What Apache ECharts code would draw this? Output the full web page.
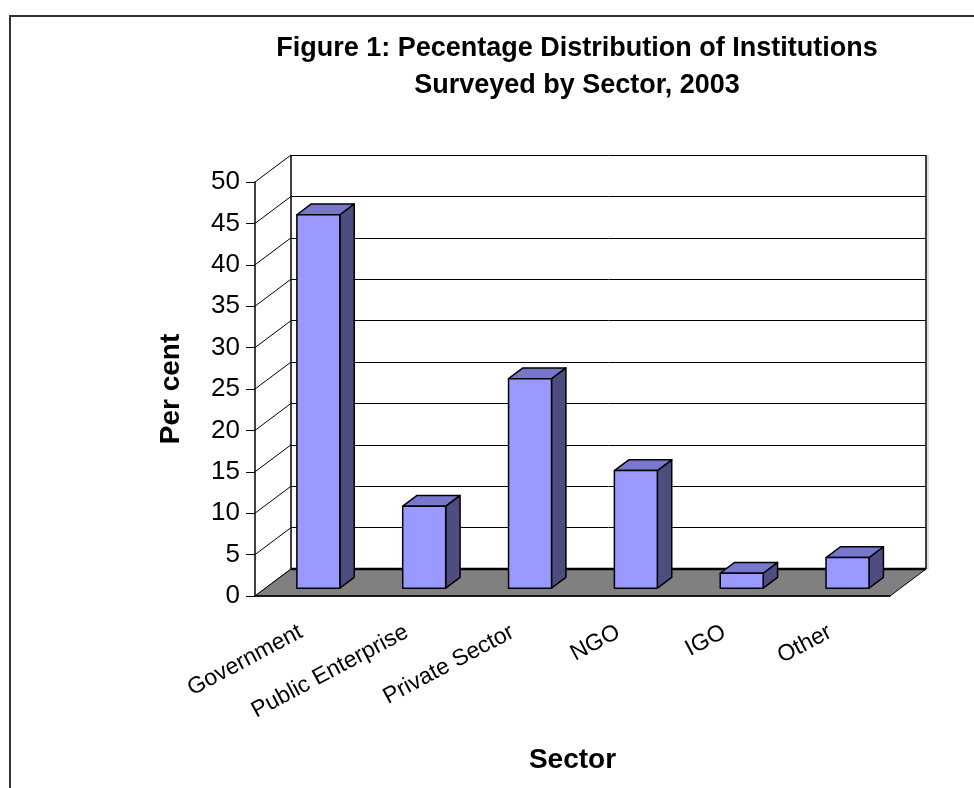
<!DOCTYPE html>
<html>
<head>
<meta charset="utf-8">
<script src="https://cdn.jsdelivr.net/npm/echarts@6/dist/echarts.min.js"></script>
<style>
  html, body { margin: 0; background: #fff; }
  #chart { width: 974px; height: 788px; }
</style>
</head>
<body>
<div id="chart"></div>
<script>
const sectors = ['Government', 'Public Enterprise', 'Private Sector', 'NGO', 'IGO', 'Other']
const percent = [45.1, 9.9, 25.3, 14.2, 1.8, 3.7]
const yTicks = [0, 5, 10, 15, 20, 25, 30, 35, 40, 45, 50]

const FONT = '"Liberation Sans", Arial, sans-serif'
const GRID = { left: 255, top: 182, width: 635, height: 414 }
// oblique depth of the 3d box, in px
const DX = 36
const DY = -27
const BAR_FRONT = 0.29
const BAR_DEPTH = 0.4
const BAR_WIDTH = 0.406

const line = (x1, y1, x2, y2, w) => ({
  type: 'line',
  shape: { x1, y1, x2, y2 },
  style: { stroke: '#000', lineWidth: w },
})

function renderFrame(params, api) {
  const band = api.size([1, 0])[0]
  const x0 = api.coord([0, 0])[0] - band / 2
  const x1 = api.coord([sectors.length - 1, 0])[0] + band / 2
  const y = (v) => api.coord([0, v])[1]
  const top = y(yTicks[yTicks.length - 1]) + DY
  const bot = y(0) + DY
  const children = []
  // side wall
  yTicks.forEach((v) => children.push(line(x0, y(v), x0 + DX, y(v) + DY, 1)))
  // back wall edges
  children.push(line(x0 + DX, top, x0 + DX, bot, 1.5))
  children.push(line(x1 + DX, top, x1 + DX, bot, 1.5))
  children.push({
    type: 'line',
    shape: { x1: x1 + DX + 2, y1: top, x2: x1 + DX + 2, y2: bot },
    style: { stroke: '#bbb', lineWidth: 1 },
  })
  // floor
  children.push({
    type: 'polygon',
    shape: { points: [[x0, y(0)], [x1, y(0)], [x1 + DX, bot], [x0 + DX, bot]] },
    style: { fill: '#808080', stroke: '#000', lineWidth: 1 },
  })
  children.push(line(x0 + DX, bot, x1 + DX, bot, 2.5))
  return { type: 'group', children }
}

function renderBar(params, api) {
  const i = api.value(0)
  const v = api.value(1)
  const band = api.size([1, 0])[0]
  const base = api.coord([i, 0])
  const tip = api.coord([i, v])
  const w = band * BAR_WIDTH
  const dx = DX * BAR_DEPTH
  const dy = DY * BAR_DEPTH
  const l = base[0] + DX * BAR_FRONT - w / 2
  const r = l + w
  const b = base[1] + DY * BAR_FRONT
  const t = tip[1] + DY * BAR_FRONT
  const edge = { stroke: '#000', lineWidth: 1.5, lineJoin: 'round' }
  return {
    type: 'group',
    children: [
      { type: 'polygon', shape: { points: [[r, t], [r + dx, t + dy], [r + dx, b + dy], [r, b]] }, style: { fill: '#4D4D80', ...edge } },
      { type: 'polygon', shape: { points: [[l, t], [l + dx, t + dy], [r + dx, t + dy], [r, t]] }, style: { fill: '#7777CC', ...edge } },
      { type: 'rect', shape: { x: l, y: t, width: w, height: b - t }, style: { fill: '#9999FF', ...edge } },
    ],
  }
}

const chart = echarts.init(document.getElementById('chart'), null, { renderer: 'canvas' })

chart.setOption({
  animation: false,
  backgroundColor: '#fff',
  title: {
    text: 'Figure 1: Pecentage Distribution of Institutions\nSurveyed by Sector, 2003',
    left: 572,
    top: 25,
    textAlign: 'center',
    textStyle: { fontFamily: FONT, fontSize: 27, fontWeight: 'bold', color: '#000', lineHeight: 37 },
  },
  graphic: [
    {
      type: 'rect',
      shape: { x: 10, y: 16, width: 1000, height: 1000 },
      style: { fill: 'none', stroke: '#333', lineWidth: 2 },
      silent: true,
    },
  ],
  grid: [
    { ...GRID },
    { left: GRID.left + DX, top: GRID.top + DY, width: GRID.width, height: GRID.height },
  ],
  xAxis: [
    {
      type: 'category',
      gridIndex: 0,
      data: sectors,
      z: 5,
      axisLine: { lineStyle: { color: '#000', width: 1.5 } },
      axisTick: { length: 9, lineStyle: { color: '#000' } },
      axisLabel: {
        interval: 0,
        rotate: 28,
        margin: 18,
        verticalAlign: 'top',
        padding: [0, 14, 0, 0],
        fontFamily: FONT,
        fontSize: 23,
        color: '#000',
      },
      name: 'Sector',
      nameLocation: 'middle',
      nameGap: 150,
      nameTextStyle: { fontFamily: FONT, fontSize: 28, fontWeight: 'bold', color: '#000' },
    },
    { type: 'category', gridIndex: 1, data: sectors, show: false },
  ],
  yAxis: [
    {
      type: 'value',
      gridIndex: 0,
      min: yTicks[0],
      max: yTicks[yTicks.length - 1],
      interval: 5,
      z: 5,
      axisLine: { show: true, lineStyle: { color: '#000', width: 1.5 } },
      axisTick: { show: true, length: 9, lineStyle: { color: '#000' } },
      axisLabel: { margin: 15, fontFamily: FONT, fontSize: 26, color: '#000' },
      splitLine: { show: false },
      name: 'Per cent',
      nameLocation: 'middle',
      nameGap: 70,
      nameRotate: 90,
      nameTextStyle: { fontFamily: FONT, fontSize: 28, fontWeight: 'bold', color: '#000' },
    },
    {
      type: 'value',
      gridIndex: 1,
      min: yTicks[0],
      max: yTicks[yTicks.length - 1],
      interval: 5,
      axisLine: { show: false },
      axisTick: { show: false },
      axisLabel: { show: false },
      splitLine: { show: true, lineStyle: { color: '#000', width: 1 } },
    },
  ],
  series: [
    {
      type: 'custom',
      xAxisIndex: 0,
      yAxisIndex: 0,
      clip: false,
      z: 1,
      silent: true,
      renderItem: renderFrame,
      data: [[0, 0]],
    },
    {
      type: 'custom',
      xAxisIndex: 0,
      yAxisIndex: 0,
      clip: false,
      z: 3,
      renderItem: renderBar,
      data: sectors.map((s, i) => [i, percent[i]]),
    },
  ],
})
</script>
</body>
</html>
